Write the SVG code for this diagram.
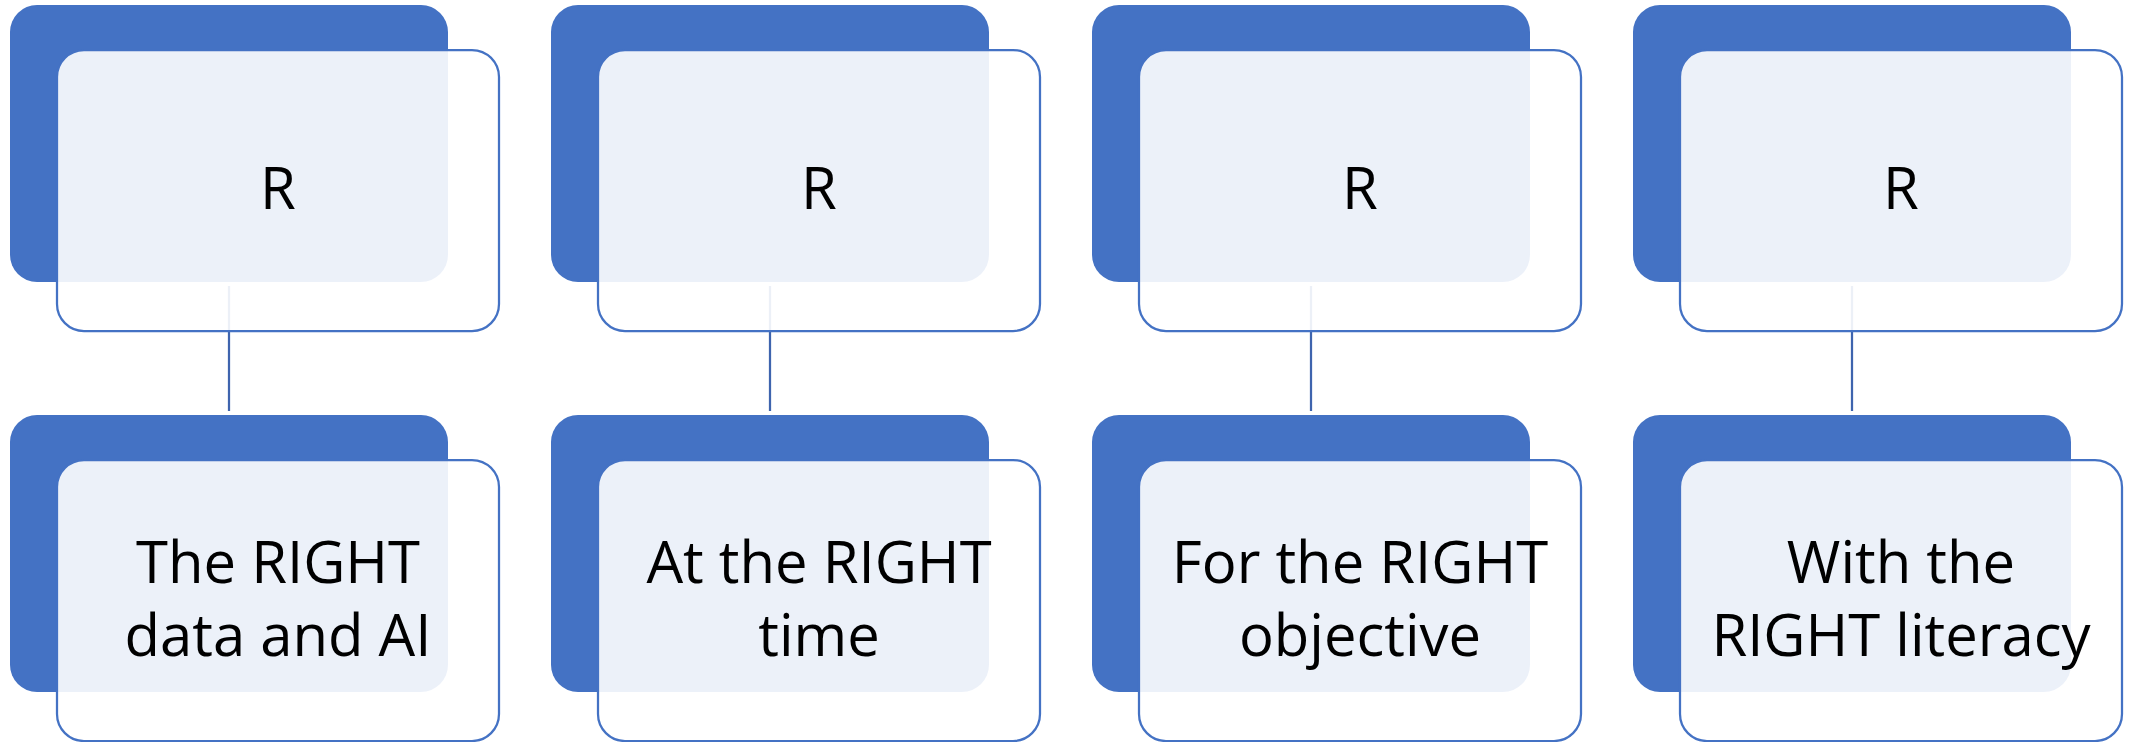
<svg xmlns="http://www.w3.org/2000/svg" width="2139" height="742" viewBox="0 0 2139 742">
<style>
.back{fill:#4472C4;}
.front{fill:#FFFFFF;fill-opacity:0.9;stroke:#4472C4;stroke-width:2.25;}
.conn{stroke:#3E64AE;stroke-width:2.25;fill:none;}
.lbl{font-family:"Open Sans","Noto Sans",sans-serif;font-size:58px;fill:#000000;text-anchor:middle;}
</style>
<defs>
<g id="card">
<rect class="back" x="10" y="5" width="438" height="277" rx="27" ry="27"/>
<rect class="front" x="57" y="50" width="442" height="281" rx="27" ry="27"/>
</g>
</defs>
<rect width="2139" height="742" fill="#FFFFFF"/>
<g id="connectors">
<line class="conn" x1="229" y1="286" x2="229" y2="411"/>
<line class="conn" x1="770" y1="286" x2="770" y2="411"/>
<line class="conn" x1="1311" y1="286" x2="1311" y2="411"/>
<line class="conn" x1="1852" y1="286" x2="1852" y2="411"/>
</g>
<g id="top1"><use href="#card"/><text class="lbl" x="278" y="209">R</text></g>
<g id="top2"><use href="#card" x="541"/><text class="lbl" x="819" y="209">R</text></g>
<g id="top3"><use href="#card" x="1082"/><text class="lbl" x="1360" y="209">R</text></g>
<g id="top4"><use href="#card" x="1623"/><text class="lbl" x="1901" y="209">R</text></g>
<g id="bottom1"><use href="#card" y="410"/><text class="lbl" x="278" y="583">The RIGHT</text><text class="lbl" x="278" y="656">data and AI</text></g>
<g id="bottom2"><use href="#card" x="541" y="410"/><text class="lbl" x="819" y="583">At the RIGHT</text><text class="lbl" x="819" y="656">time</text></g>
<g id="bottom3"><use href="#card" x="1082" y="410"/><text class="lbl" x="1360" y="583">For the RIGHT</text><text class="lbl" x="1360" y="656">objective</text></g>
<g id="bottom4"><use href="#card" x="1623" y="410"/><text class="lbl" x="1901" y="583">With the</text><text class="lbl" x="1901" y="656">RIGHT literacy</text></g>
</svg>
